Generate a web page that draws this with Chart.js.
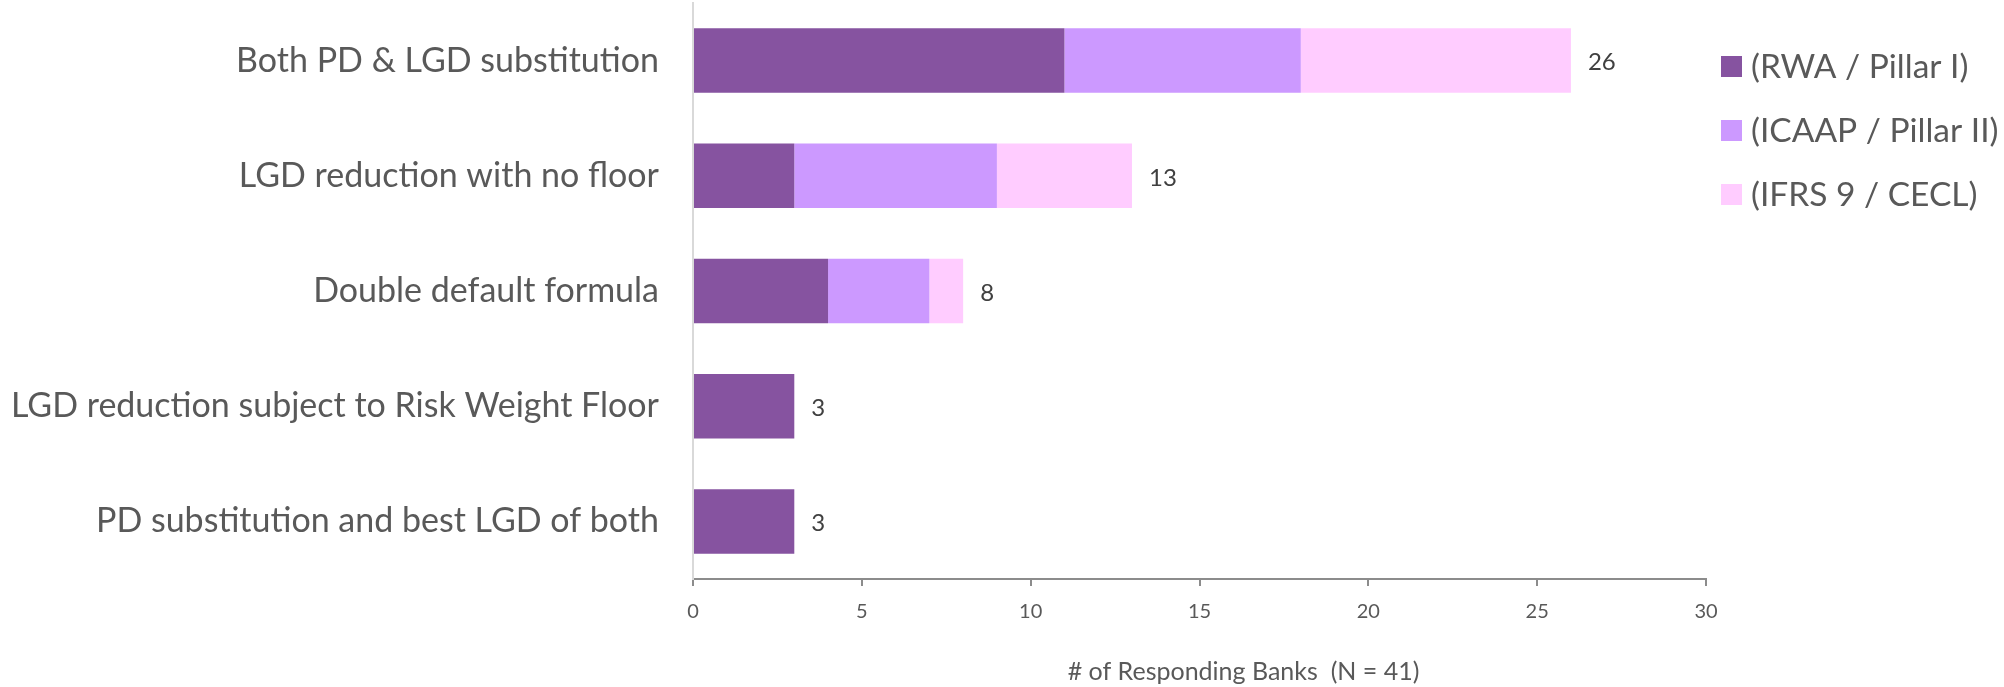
<!DOCTYPE html>
<html lang="en">
<head>
    <meta charset="UTF-8">
    <title>Credit Risk Mitigation Approaches</title>
    <script src="https://cdn.jsdelivr.net/npm/chart.js"></script>
    <style>
        html, body {
            margin: 0;
            background: #fff;
        }

        .chart-box {
            width: 2004px;
            height: 687px;
        }
    </style>
</head>
<body>
    <div class="chart-box">
        <canvas id="crmChart"></canvas>
    </div>

    <script>
        // Approaches, top to bottom
        const approaches = [
            'Both PD & LGD substitution',
            'LGD reduction with no floor',
            'Double default formula',
            'LGD reduction subject to Risk Weight Floor',
            'PD substitution and best LGD of both'
        ];
        const seriesNames = ['(RWA / Pillar I)', '(ICAAP / Pillar II)', '(IFRS 9 / CECL)'];
        const rwaBanks = [11, 3, 4, 3, 3];
        const icaapBanks = [7, 6, 3, 0, 0];
        const ifrsBanks = [8, 4, 1, 0, 0];
        const xTicks = [0, 5, 10, 15, 20, 25, 30];
        const xTitle = '# of Responding Banks  (N = 41)';

        const seriesColors = ['#8653a0', '#cc99ff', '#ffccff'];
        const textColor = '#595959';
        const fontFamily = 'Lato, "Open Sans", sans-serif';

        // totals at the end of each stack, plus the x title
        const totalsPlugin = {
            id: 'totals',
            afterDatasetsDraw(chart) {
                const ctx = chart.ctx;
                const lastMeta = chart.getDatasetMeta(chart.data.datasets.length - 1);
                ctx.save();
                ctx.font = '24px ' + fontFamily;
                ctx.fillStyle = '#404040';
                ctx.textAlign = 'left';
                ctx.textBaseline = 'middle';
                approaches.forEach((a, i) => {
                    const total = rwaBanks[i] + icaapBanks[i] + ifrsBanks[i];
                    const x = chart.scales.x.getPixelForValue(total);
                    const y = lastMeta.data[i].y;
                    ctx.fillText(String(total), x + 17, y + 2);
                });

                const area = chart.chartArea;
                ctx.font = '25px ' + fontFamily;
                ctx.fillStyle = textColor;
                ctx.textAlign = 'center';
                ctx.fillText(xTitle, (area.left + area.right) / 2 + 44, 672);
                ctx.restore();
            }
        };

        // legend drawn in the right margin
        const sideLegend = {
            id: 'sideLegend',
            afterDraw(chart) {
                const ctx = chart.ctx;
                ctx.save();
                ctx.font = '33.5px ' + fontFamily;
                ctx.textAlign = 'left';
                ctx.textBaseline = 'middle';
                seriesNames.forEach((name, k) => {
                    const cy = 66 + k * 64;
                    ctx.fillStyle = seriesColors[k];
                    ctx.fillRect(1721, cy - 10, 21, 21);
                    ctx.fillStyle = textColor;
                    ctx.fillText(name, 1751, cy + 1);
                });
                ctx.restore();
            }
        };

        const ctx = document.getElementById('crmChart').getContext('2d');
        new Chart(ctx, {
            type: 'bar',
            data: {
                labels: approaches,
                datasets: [rwaBanks, icaapBanks, ifrsBanks].map((vals, k) => ({
                    label: seriesNames[k],
                    data: vals,
                    backgroundColor: seriesColors[k],
                    borderWidth: 0,
                    categoryPercentage: 1,
                    barPercentage: 0.56
                }))
            },
            options: {
                indexAxis: 'y',
                responsive: true,
                maintainAspectRatio: false,
                animation: false,
                layout: {
                    padding: { left: 0, right: 298, top: 3, bottom: 49 }
                },
                plugins: {
                    legend: { display: false },
                    tooltip: { enabled: false }
                },
                scales: {
                    x: {
                        stacked: true,
                        min: 0,
                        max: 30,
                        afterBuildTicks(scale) {
                            scale.ticks = xTicks.map(v => ({ value: v }));
                        },
                        grid: {
                            drawOnChartArea: false,
                            drawTicks: true,
                            tickLength: 7,
                            color: '#8c8c8c',
                            lineWidth: 2
                        },
                        border: { color: '#8c8c8c', width: 2 },
                        ticks: {
                            color: textColor,
                            padding: 14,
                            maxRotation: 0,
                            font: { family: fontFamily, size: 20 }
                        }
                    },
                    y: {
                        stacked: true,
                        grid: { display: false },
                        border: { color: '#d9d9d9', width: 2 },
                        afterFit(scale) {
                            scale.width = 693;
                            scale.paddingTop = 0;
                            scale.paddingBottom = 0;
                        },
                        ticks: {
                            color: textColor,
                            padding: 26,
                            font: { family: fontFamily, size: 34 }
                        }
                    }
                }
            },
            plugins: [totalsPlugin, sideLegend]
        });
    </script>
</body>
</html>
